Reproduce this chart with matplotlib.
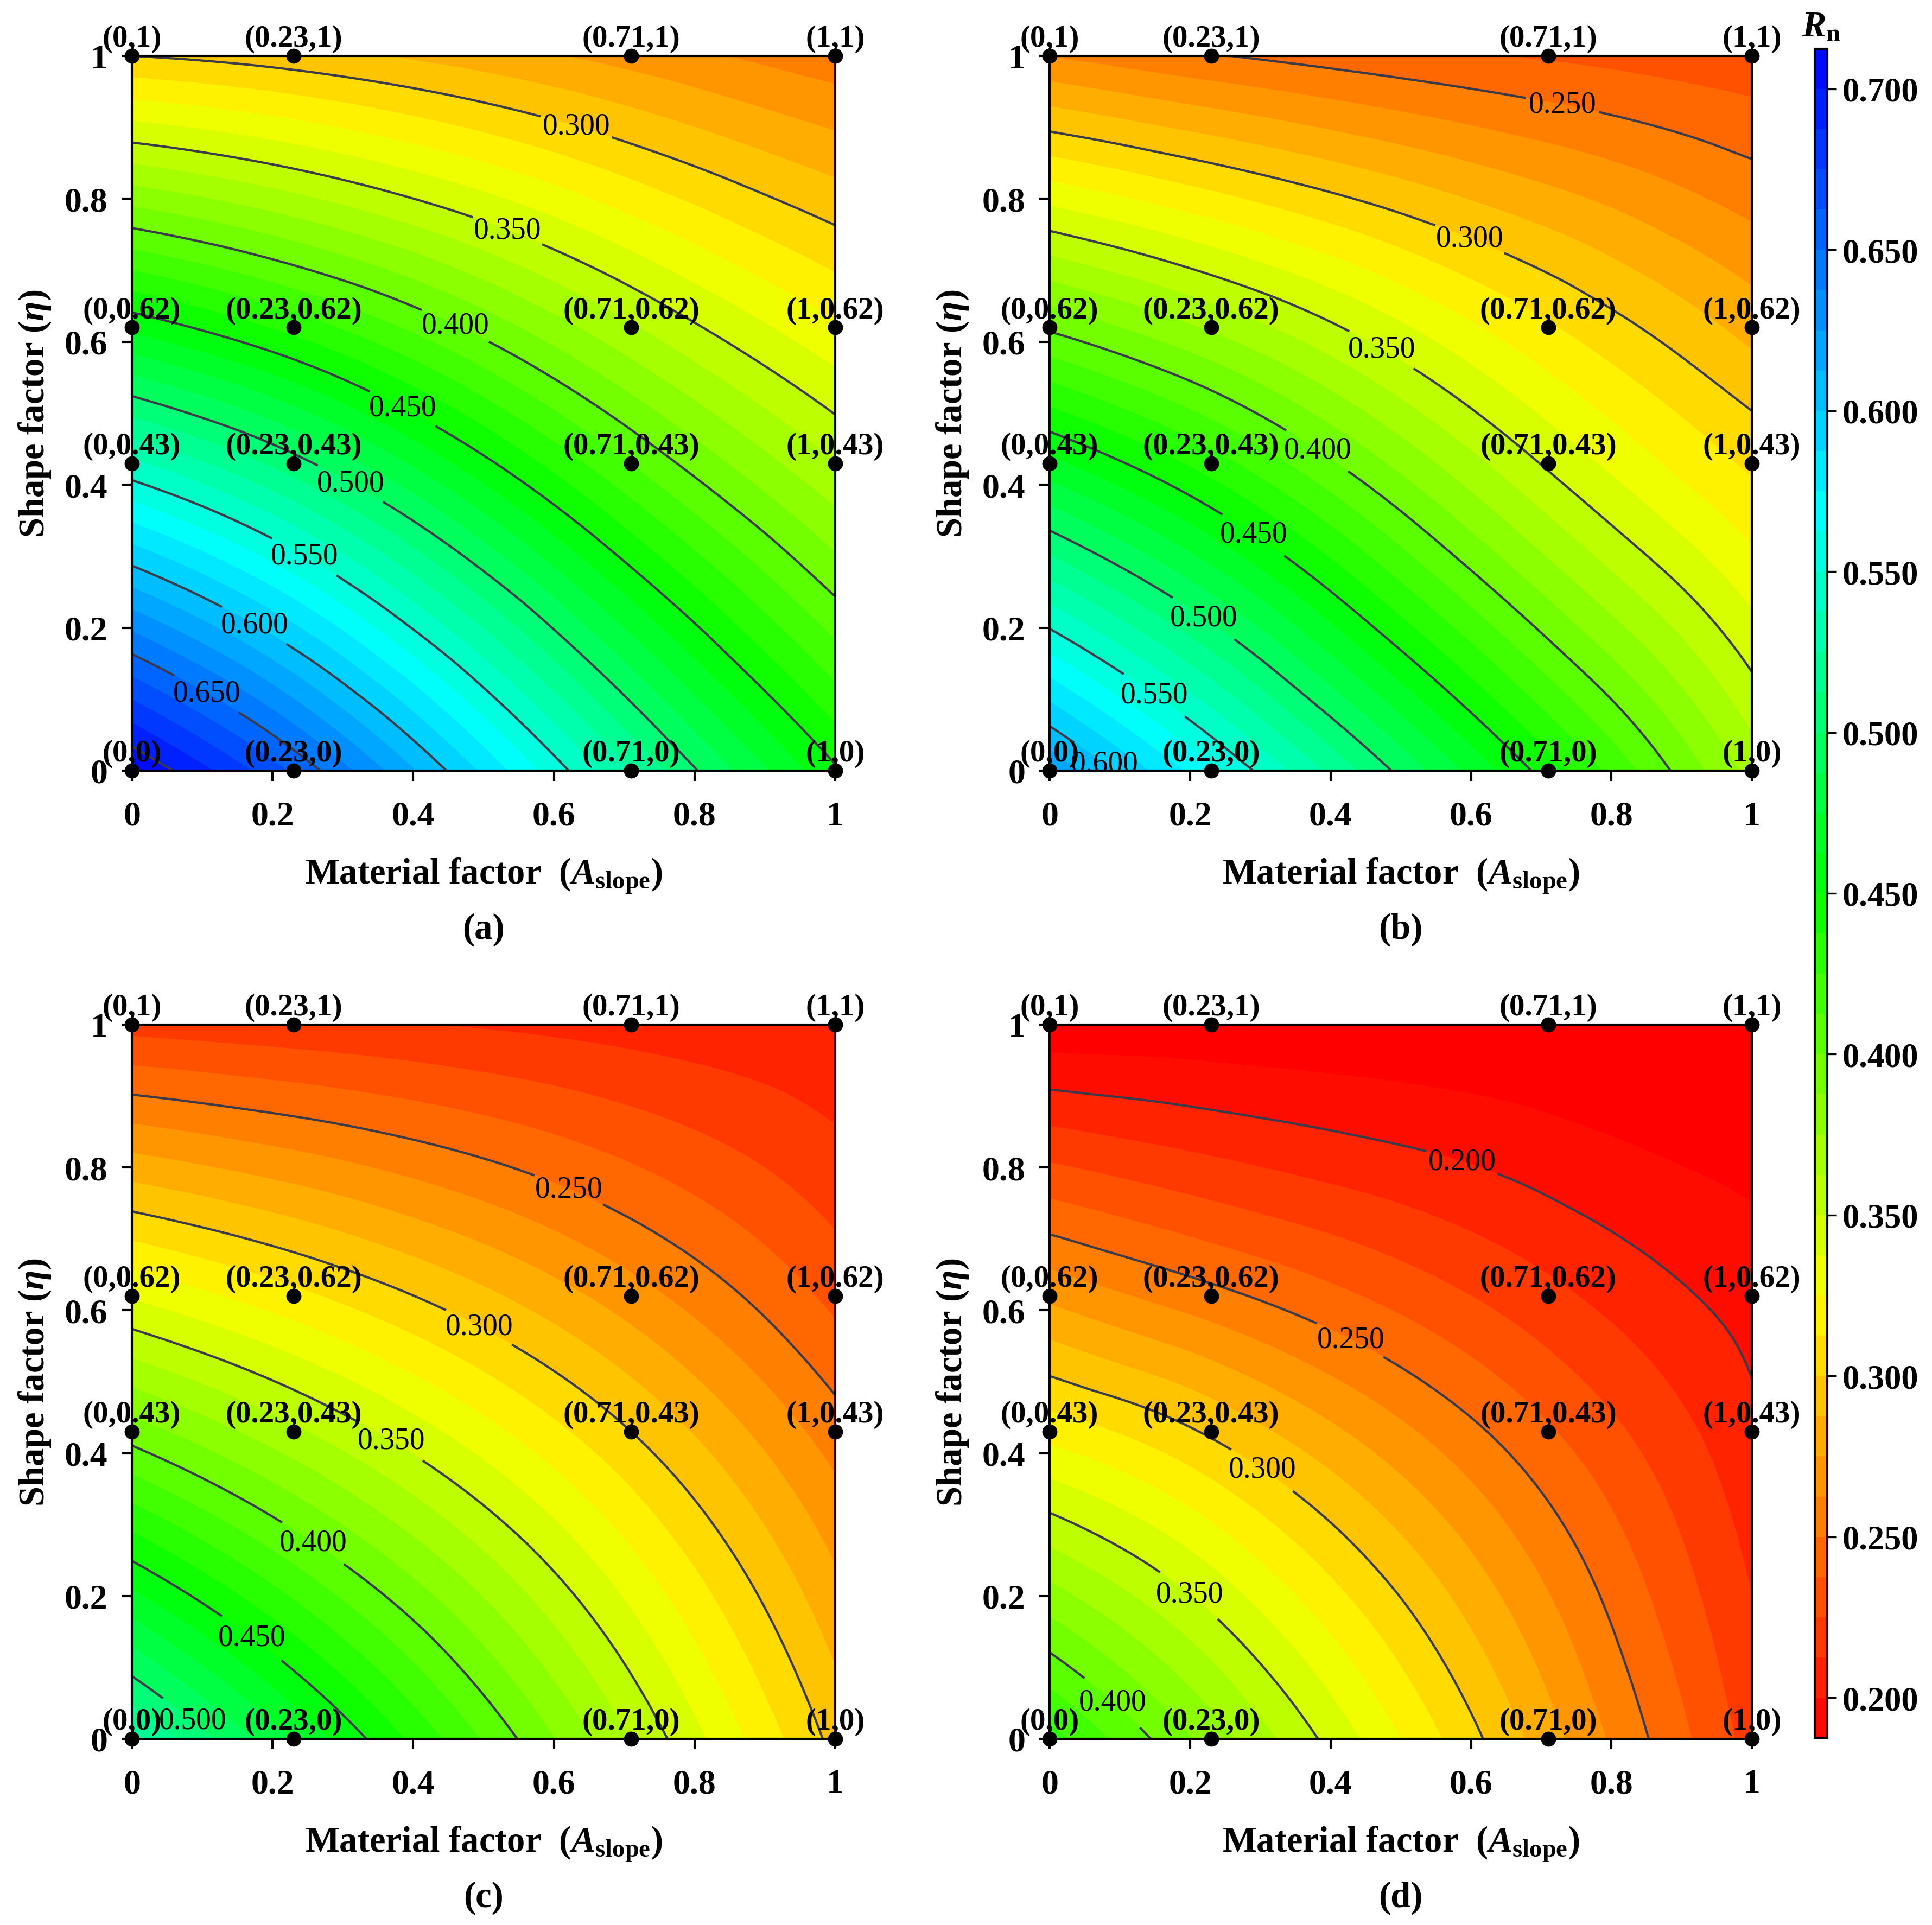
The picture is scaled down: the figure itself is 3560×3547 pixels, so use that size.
import numpy as np
import matplotlib
matplotlib.use('Agg')
import matplotlib.pyplot as plt
import matplotlib.tri as mtri
from matplotlib.colors import LinearSegmentedColormap, Normalize
from matplotlib.ticker import FuncFormatter

plt.rcParams['font.family'] = ['Liberation Serif', 'DejaVu Serif']
plt.rcParams['font.weight'] = 'bold'
plt.rcParams['axes.labelweight'] = 'bold'
plt.rcParams['mathtext.fontset'] = 'custom'
plt.rcParams['mathtext.rm'] = 'Liberation Serif:bold'
plt.rcParams['mathtext.it'] = 'Liberation Serif:italic:bold'
plt.rcParams['mathtext.bf'] = 'Liberation Serif:bold'

# sample points (material factor A_slope, shape factor eta)
a_slope = [0, 0.23, 0.71, 1]
eta = [0, 0.43, 0.62, 1]

# R_n values, rows = eta, columns = a_slope
rn_a = [[0.7126, 0.660, 0.525, 0.452],
        [0.540, 0.505, 0.412, 0.363],
        [0.459, 0.433, 0.364, 0.327],
        [0.300, 0.293, 0.270, 0.255]]
rn_b = [[0.623, 0.565, 0.444, 0.370],
        [0.466, 0.431, 0.348, 0.310],
        [0.398, 0.373, 0.314, 0.283],
        [0.262, 0.251, 0.236, 0.229]]
rn_c = [[0.527, 0.474, 0.362, 0.296],
        [0.394, 0.365, 0.300, 0.256],
        [0.336, 0.316, 0.268, 0.234],
        [0.220, 0.216, 0.207, 0.202]]
rn_d = [[0.430, 0.382, 0.280, 0.220],
        [0.320, 0.298, 0.239, 0.203],
        [0.272, 0.254, 0.216, 0.195],
        [0.178, 0.178, 0.175, 0.172]]

panel_names = ['(a)', '(b)', '(c)', '(d)']
line_levels = [0.200, 0.250, 0.300, 0.350, 0.400, 0.450, 0.500, 0.550, 0.600, 0.650, 0.700]

# where the contour labels sit (layout only)
label_pos = [
    [(0.63, 0.895), (0.533, 0.753), (0.462, 0.627), (0.383, 0.503), (0.308, 0.397),
     (0.245, 0.299), (0.166, 0.19), (0.107, 0.109)],
    [(0.73, 0.93), (0.598, 0.743), (0.472, 0.588), (0.386, 0.455), (0.287, 0.325),
     (0.222, 0.217), (0.153, 0.111), (0.095, 0.032)],
    [(0.617, 0.759), (0.487, 0.564), (0.358, 0.40), (0.257, 0.273), (0.178, 0.151),
     (0.094, 0.035)],
    [(0.59, 0.816), (0.427, 0.556), (0.295, 0.365), (0.175, 0.172), (0.096, 0.058)],
]

vmin, vmax = 0.1875, 0.7125
fill_levels = np.linspace(vmin, vmax, 43)
cmap = LinearSegmentedColormap.from_list(
    'rain', [(0.0, '#ff0000'), (0.26, '#ffff00'), (0.5, '#00ff00'),
             (0.73, '#00ffff'), (1.0, '#0000ff')])
cmap.set_under('#ff0000')
norm = Normalize(vmin, vmax)

fig = plt.figure(figsize=(17.8, 17.74), dpi=200)
axpos = [[0.0683, 0.5995, 0.364, 0.3712], [0.5433, 0.5995, 0.3635, 0.3712],
         [0.0683, 0.0967, 0.364, 0.3709], [0.5433, 0.0967, 0.3635, 0.3709]]

X, Y = np.meshgrid(a_slope, eta)
tri = mtri.Triangulation(X.ravel(), Y.ravel())
fmt_num = FuncFormatter(lambda v, p: f'{v:g}')

cf_bar = None
for k, rn in enumerate([rn_a, rn_b, rn_c, rn_d]):
    ax = fig.add_axes(axpos[k])
    z = np.array(rn).ravel()
    interp = mtri.CubicTriInterpolator(tri, z, kind='min_E')
    refiner = mtri.UniformTriRefiner(tri)
    tri_r, z_r = refiner.refine_field(z, interp, subdiv=5)
    ext = 'neither' if k == 0 else 'min'
    cf = ax.tricontourf(tri_r, z_r, levels=fill_levels, cmap=cmap, norm=norm, extend=ext)
    if k == 0:
        cf_bar = cf
    cs = ax.tricontour(tri_r, z_r, levels=line_levels, colors='#3a3a48', linewidths=1.5)
    lbls = ax.clabel(cs, fmt='%.3f', fontsize=20, inline=True, inline_spacing=6,
                     manual=label_pos[k], colors='black')
    for t in lbls:
        t.set_rotation(0)
        t.set_fontweight('normal')

    # sample points and their coordinates
    ax.plot(X.ravel(), Y.ravel(), 'o', color='black', ms=9, clip_on=False, zorder=5)
    for xv, yv in zip(X.ravel(), Y.ravel()):
        ax.annotate(f'({xv:g},{yv:g})', (xv, yv), xytext=(0, 2), textcoords='offset points',
                    ha='center', va='bottom', fontsize=20.5, fontweight='bold',
                    annotation_clip=False, zorder=6)

    ax.set_xlim(0, 1)
    ax.set_ylim(0, 1)
    ax.set_xticks([0, 0.2, 0.4, 0.6, 0.8, 1])
    ax.set_yticks([0, 0.2, 0.4, 0.6, 0.8, 1])
    ax.xaxis.set_major_formatter(fmt_num)
    ax.yaxis.set_major_formatter(fmt_num)
    ax.tick_params(direction='out', length=7, width=1.5, labelsize=23)
    ax.tick_params(axis='x', pad=13)
    ax.tick_params(axis='y', pad=9)
    for s in ax.spines.values():
        s.set_linewidth(1.5)
    ax.set_xlabel(r'Material factor  ($A_{\mathrm{slope}}$)', fontsize=24, labelpad=16)
    ax.set_ylabel(r'Shape factor ($\eta$)', fontsize=24, labelpad=8)
    ax.text(0.5, -0.222, panel_names[k], transform=ax.transAxes, ha='center', va='center',
            fontsize=24, fontweight='bold')

cax = fig.add_axes([0.9393, 0.0972, 0.0065, 0.8772])
cb = fig.colorbar(cf_bar, cax=cax, ticks=[0.2, 0.25, 0.3, 0.35, 0.4, 0.45, 0.5, 0.55, 0.6, 0.65, 0.7])
cb.ax.yaxis.set_major_formatter(FuncFormatter(lambda v, p: f'{v:.3f}'))
cb.ax.tick_params(labelsize=22.5, length=6, width=1.2, pad=4)
cb.outline.set_linewidth(1.5)
cax.text(0.5, 1.003, r'$R_{\mathrm{n}}$', transform=cax.transAxes, ha='center', va='bottom',
         fontsize=24)

fig.savefig('out.png', dpi=200)
